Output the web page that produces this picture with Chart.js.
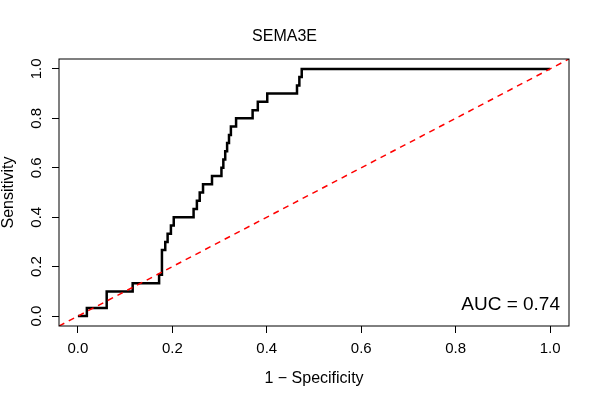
<!DOCTYPE html>
<html>
<head>
<meta charset="utf-8">
<script src="https://cdn.jsdelivr.net/npm/chart.js@4"></script>
<style>
  body { margin: 0; background: #fff; }
</style>
</head>
<body>
<canvas id="roc" width="600" height="400"></canvas>
<script>
// ROC curve vertices (1 - specificity, sensitivity)
const fpr = [0, 0.019, 0.061, 0.116, 0.172, 0.178, 0.185, 0.19, 0.197, 0.203,
  0.245, 0.252, 0.258, 0.265, 0.284, 0.304, 0.308, 0.312, 0.316, 0.32,
  0.324, 0.335, 0.37, 0.381, 0.401, 0.464, 0.469, 0.474, 1.0];
const tpr = [0, 0.033, 0.1, 0.133, 0.167, 0.267, 0.3, 0.333, 0.367, 0.4,
  0.433, 0.467, 0.5, 0.533, 0.567, 0.6, 0.633, 0.667, 0.7, 0.733,
  0.767, 0.8, 0.833, 0.867, 0.9, 0.933, 0.967, 1.0, 1.0];
// chance line
const diagX = [-0.04, 1.04];
const diagY = [-0.04, 1.04];

const tickVals = [0, 0.2, 0.4, 0.6, 0.8, 1.0];
const tickLabels = ['0.0', '0.2', '0.4', '0.6', '0.8', '1.0'];
const titleText = 'SEMA3E';
const aucText = 'AUC = 0.74';

Chart.defaults.font.family = '"Liberation Sans", Arial, Helvetica, sans-serif';
Chart.defaults.color = '#000';

// box around the plot region + AUC label, like base R
const boxPlugin = {
  id: 'rbox',
  afterDraw(chart) {
    const { ctx, chartArea: a } = chart;
    ctx.save();
    ctx.strokeStyle = '#000';
    ctx.lineWidth = 1;
    ctx.strokeRect(a.left, a.top, a.right - a.left, a.bottom - a.top);
    ctx.font = '19px "Liberation Sans", Arial, sans-serif';
    ctx.fillStyle = '#000';
    ctx.textAlign = 'right';
    ctx.textBaseline = 'alphabetic';
    ctx.fillText(aucText, a.right - 9, a.bottom - 16);
    ctx.restore();
  }
};

const fixTicks = s => { s.ticks = tickVals.map(v => ({ value: v })); };

new Chart(document.getElementById('roc'), {
  type: 'line',
  data: {
    datasets: [
      {
        data: diagX.map((x, i) => ({ x: x, y: diagY[i] })),
        borderColor: '#ff0000',
        borderWidth: 1.5,
        borderDash: [6, 5],
        pointRadius: 0
      },
      {
        // horizontal first, then up
        data: fpr.map((x, i) => ({ x: x, y: tpr[i] })),
        borderColor: '#000',
        borderWidth: 2.5,
        stepped: 'before',
        pointRadius: 0
      }
    ]
  },
  options: {
    responsive: false,
    animation: false,
    devicePixelRatio: 1,
    layout: { padding: { left: 0, right: 31, top: 0, bottom: 0 } },
    plugins: {
      legend: { display: false },
      tooltip: { enabled: false },
      title: {
        display: true,
        text: titleText,
        font: { size: 16, weight: 'normal' },
        color: '#000',
        padding: { top: 27, bottom: 12.8 }
      }
    },
    scales: {
      x: {
        type: 'linear',
        min: -0.04,
        max: 1.04,
        afterBuildTicks: fixTicks,
        afterFit: s => { s.height = 74; },
        ticks: {
          callback: (v, i) => tickLabels[i],
          font: { size: 15 },
          color: '#000',
          padding: 7,
          maxRotation: 0
        },
        grid: { drawOnChartArea: false, tickLength: 7, color: '#000' },
        border: { display: false },
        title: {
          display: true,
          text: '1 − Specificity',
          font: { size: 16 },
          color: '#000',
          padding: { top: 0, bottom: 12 }
        }
      },
      y: {
        type: 'linear',
        min: -0.04,
        max: 1.04,
        afterBuildTicks: fixTicks,
        afterFit: s => { s.width = 59; },
        ticks: {
          callback: (v, i) => tickLabels[i],
          font: { size: 15 },
          color: '#000',
          padding: 5,
          minRotation: 90,
          maxRotation: 90,
          crossAlign: 'center'
        },
        grid: { drawOnChartArea: false, tickLength: 7, color: '#000' },
        border: { display: false },
        title: {
          display: true,
          text: 'Sensitivity',
          font: { size: 16, lineHeight: 1 },
          color: '#000',
          padding: { top: 1, bottom: 0 }
        }
      }
    }
  },
  plugins: [boxPlugin]
});
</script>
</body>
</html>
